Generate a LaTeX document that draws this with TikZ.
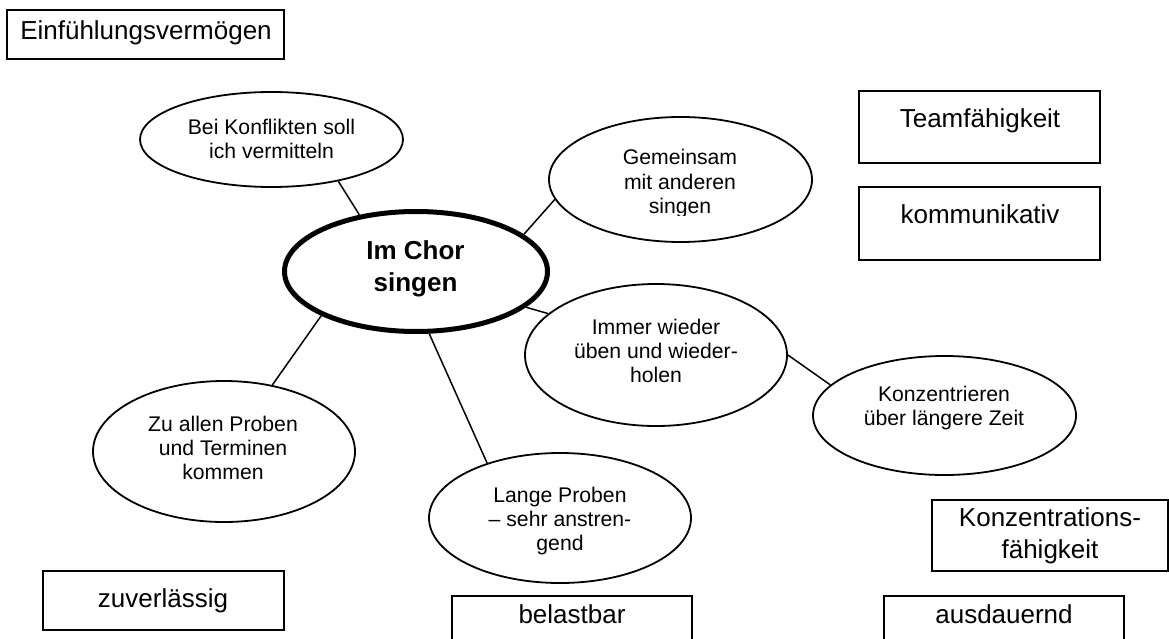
\documentclass[tikz,border=0pt]{standalone}
\usepackage{fontspec}
\setmainfont{Liberation Sans}
\usetikzlibrary{shapes.geometric}
\tikzset{
  bubble/.style={draw, ellipse, line width=1.8pt, inner sep=0pt},
  hub/.style={draw, ellipse, line width=5pt, inner sep=0pt},
  bubbletext/.style={align=center, inner sep=0pt, font=\fontsize{21.2}{24}\selectfont},
  hubtext/.style={align=center, inner sep=0pt, font=\fontsize{26}{32}\selectfont\bfseries},
  card/.style={draw, line width=1.8pt, inner sep=0pt, rectangle},
  cardtext/.style={inner sep=0pt, anchor=base, font=\fontsize{26}{32}\selectfont},
  cardtext2/.style={align=center, inner sep=0pt, font=\fontsize{26}{32}\selectfont},
  conn/.style={line width=1.5pt}
}
\begin{document}
\begin{tikzpicture}[x=1pt,y=-1pt]
\useasboundingbox (0,0) rectangle (1169,639);
% ellipses
\node[bubble, minimum width=263pt, minimum height=95pt] (bei) at (271.5,139.5) {};
\node[hub, minimum width=263pt, minimum height=120pt] (chor) at (416,271.5) {};
\node[bubble, minimum width=263pt, minimum height=125pt] (gem) at (680.5,179.5) {};
\node[bubble, minimum width=262pt, minimum height=142pt] (immer) at (656,355) {};
\node[bubble, minimum width=263pt, minimum height=119pt] (konz) at (944.5,415.5) {};
\node[bubble, minimum width=262pt, minimum height=141pt] (zu) at (224,451.5) {};
\node[bubble, minimum width=262pt, minimum height=130pt] (lange) at (560,518) {};
% texts in ellipses
\node[bubbletext] (beitext) at (271.5,142.2) {\strut Bei Konflikten soll\\\strut ich vermitteln};
\node[hubtext] (chortext) at (415.5,268.6) {\strut Im Chor\\\strut singen};
\begin{scope}
\clip (540,100) rectangle (820,215);
\node[bubbletext] (gemtext) at (680,184.2) {\strut Gemeinsam\\\strut mit anderen\\\strut singen};
\end{scope}
\node[bubbletext] (immertext) at (656,353.2) {\strut Immer wieder\\\strut üben und wieder-\\\strut holen};
\node[bubbletext] (konztext) at (944,408.2) {\strut Konzentrieren\\\strut über längere Zeit};
\node[bubbletext] (zutext) at (223,450.2) {\strut Zu allen Proben\\\strut und Terminen\\\strut kommen};
\node[bubbletext] (langetext) at (560,521.2) {\strut Lange Proben\\\strut – sehr anstren-\\\strut gend};
% connectors
\draw[conn] (bei.328) -- (chor.135);
\draw[conn] (gem.189) -- (chor.19.5);
\draw[conn] (immer.159) -- (chor.-18.5);
\draw[conn] (immer.0) -- (konz.165);
\draw[conn] (chor.205.3) -- (zu.54);
\draw[conn] (chor.-78) -- (lange.143);
% boxes
\node[card, minimum width=277pt, minimum height=49pt] (einf) at (145.5,34.5) {};
\node[cardtext] (einftext) at (146,40) {Einfühlungsvermögen};
\node[card, minimum width=241pt, minimum height=72pt] (team) at (979.5,127) {};
\node[cardtext] (teamtext) at (980,128) {Teamfähigkeit};
\node[card, minimum width=241pt, minimum height=73pt] (komm) at (979.5,223.5) {};
\node[cardtext] (kommtext) at (980,223) {kommunikativ};
\node[card, minimum width=241pt, minimum height=59pt] (zuv) at (163.5,600.5) {};
\node[cardtext] (zuvtext) at (163,607) {zuverlässig};
\node[card, minimum width=240pt, minimum height=54pt] (bel) at (572,623) {};
\node[cardtext] (beltext) at (572,623) {belastbar};
\node[card, minimum width=240pt, minimum height=54pt] (aus) at (1004,623) {};
\node[cardtext] (austext) at (1004,623) {ausdauernd};
\node[card, minimum width=236pt, minimum height=71pt] (kf) at (1050,535.5) {};
\node[cardtext2] (kftext) at (1050,535.6) {\strut Konzentrations-\\\strut fähigkeit};
\end{tikzpicture}
\end{document}
